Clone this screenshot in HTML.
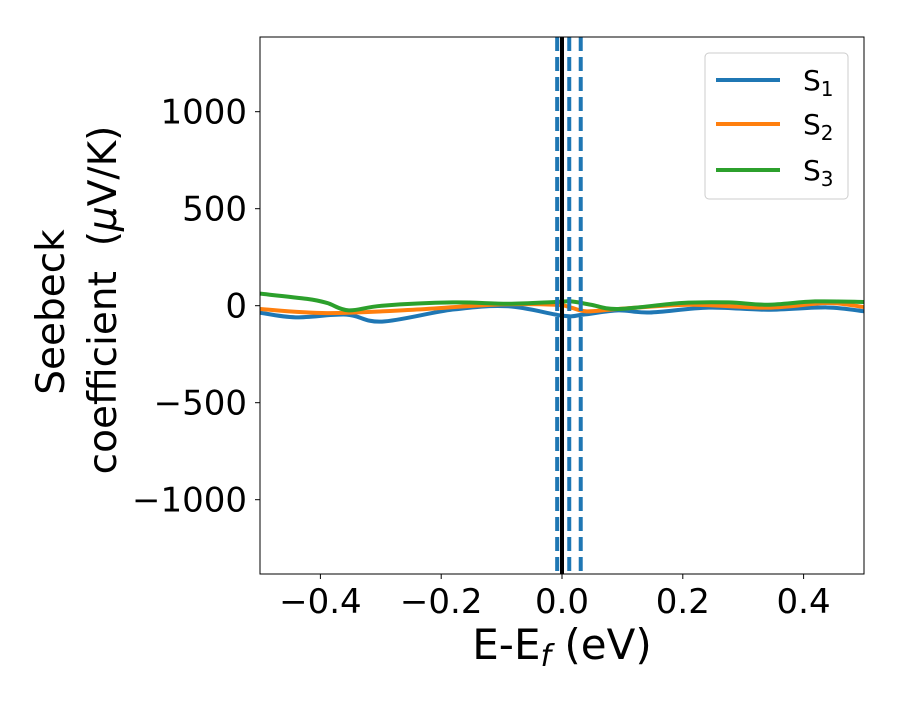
<!DOCTYPE html>
<html><head><meta charset="utf-8"><style>
body{margin:0;background:#fff;}
svg text{font-family:"DejaVu Sans","Liberation Sans",sans-serif;white-space:pre;}
</style></head><body>
<svg id="chart" width="900" height="700" xmlns="http://www.w3.org/2000/svg"></svg>
<script>
const xData1=[-0.5,-0.441,-0.357,-0.298,-0.181,-0.089,0.002,0.035,0.093,0.145,0.243,0.341,0.439,0.5];
const s1=[-36,-60,-46,-82,-20,-3,-52,-46,-24,-35,-10,-21,-9,-29];
const xData2=[-0.5,-0.389,-0.246,-0.115,-0.011,0.015,0.041,0.093,0.211,0.341,0.439,0.5];
const s2=[-17,-38,-21,5,5,-10,-29,-17,5,-10,14,-7];
const xData3=[-0.5,-0.422,-0.389,-0.353,-0.298,-0.181,-0.089,-0.011,0.015,0.048,0.093,0.198,0.276,0.341,0.419,0.5];
const s3=[62,35,14,-24,0,17,10,19,22,5,-17,14,17,5,22,19];
const vlineSolid=[0];
const vlinesDashed=[-0.008,0.012,0.031];
const xTicks=[-0.4,-0.2,0.0,0.2,0.4];
const xTickLabels=["\u22120.4","\u22120.2","0.0","0.2","0.4"];
const yTicks=[-1000,-500,0,500,1000];
const yTickLabels=["\u22121000","\u2212500","0","500","1000"];
const colors=["#1f77b4","#ff7f0e","#2ca02c"];

const L=260,R=864,T=37,B=574;
const xMin=-0.5,xMax=0.5,yMin=-1383,yMax=1385;
const X=v=>L+(v-xMin)/(xMax-xMin)*(R-L);
const Y=v=>B-(v-yMin)/(yMax-yMin)*(B-T);
const svg=document.getElementById('chart');
const NS="http://www.w3.org/2000/svg";
function mk(tag,attrs,parent){const e=document.createElementNS(NS,tag);for(const k in attrs)e.setAttribute(k,attrs[k]);(parent||svg).appendChild(e);return e;}

const clip=mk('clipPath',{id:'clp'});mk('rect',{x:L,y:T,width:R-L,height:B-T},clip);
const g=mk('g',{'clip-path':'url(#clp)'});



function smooth(xs,ys){
  const p=xs.map((x,i)=>[X(x),Y(ys[i])]);
  let d=`M${p[0][0]},${p[0][1]}`;
  for(let i=0;i<p.length-1;i++){
    const p0=p[i-1]||p[i],p1=p[i],p2=p[i+1],p3=p[i+2]||p2;
    const c1=[p1[0]+(p2[0]-p0[0])/6,p1[1]+(p2[1]-p0[1])/6];
    const c2=[p2[0]-(p3[0]-p1[0])/6,p2[1]-(p3[1]-p1[1])/6];
    d+=` C${c1[0]},${c1[1]} ${c2[0]},${c2[1]} ${p2[0]},${p2[1]}`;
  }
  return d;
}
const allX=[xData1,xData2,xData3],allY=[s1,s2,s3];
for(let i=0;i<3;i++){
  const p=mk('path',{d:smooth(allX[i],allY[i]),fill:'none',stroke:colors[i],'stroke-width':4},g);
  
  
}
vlinesDashed.forEach((v,i)=>{
  const l=mk('line',{x1:X(v),x2:X(v),y1:T,y2:B,stroke:'#1f77b4','stroke-width':4,'stroke-dasharray':'14 6'},g);
  
  
});
vlineSolid.forEach(v=>{
  const l=mk('line',{x1:X(v),x2:X(v),y1:T,y2:B,stroke:'#000','stroke-width':4},g);
  
  
});

const frame=mk('rect',{x:L,y:T,width:R-L,height:B-T,fill:'none',stroke:'#000','stroke-width':1});



xTicks.forEach((v,i)=>{
  const t=mk('line',{x1:X(v),x2:X(v),y1:B,y2:B+5,stroke:'#000'});
  
  
  const tx=mk('text',{x:X(v),y:B+39,'font-size':34,'text-anchor':'middle'});
  tx.textContent=xTickLabels[i];
  
  
});
yTicks.forEach((v,i)=>{
  const t=mk('line',{x1:L-5,x2:L,y1:Y(v),y2:Y(v),stroke:'#000'});
  
  
  const tx=mk('text',{x:L-13,y:Y(v)+12,'font-size':34,'text-anchor':'end'});
  tx.textContent=yTickLabels[i];
  
  
});
</script>
<svg style="position:absolute;left:0;top:0" width="900" height="700" xmlns="http://www.w3.org/2000/svg">
<text x="562" y="659" font-size="42" text-anchor="middle" font-family="DejaVu Sans, sans-serif">E-E<tspan font-style="italic" font-size="30" dy="7">f</tspan><tspan dy="-7"> (eV)</tspan></text>
<g font-family="DejaVu Sans, sans-serif" font-size="39">
<text transform="translate(64,312) rotate(-90)" text-anchor="middle">Seebeck</text>
<text transform="translate(116,300) rotate(-90)" text-anchor="middle" xml:space="preserve">coefficient  (<tspan font-style="italic">μ</tspan>V/K)</text>
</g>
<g font-family="DejaVu Sans, sans-serif">
<rect x="705" y="53" width="143" height="146" rx="4" fill="#fff" stroke="#ccc"/>
<line x1="716" x2="780" y1="80" y2="80" stroke="#1f77b4" stroke-width="4"/>
<text x="803" y="90" font-size="28">S<tspan font-size="20" dy="6">1</tspan></text>
<line x1="716" x2="780" y1="124" y2="124" stroke="#ff7f0e" stroke-width="4"/>
<text x="803" y="134" font-size="28">S<tspan font-size="20" dy="6">2</tspan></text>
<line x1="716" x2="780" y1="170" y2="170" stroke="#2ca02c" stroke-width="4"/>
<text x="803" y="180" font-size="28">S<tspan font-size="20" dy="6">3</tspan></text>
</g>
</svg>
</body></html>
